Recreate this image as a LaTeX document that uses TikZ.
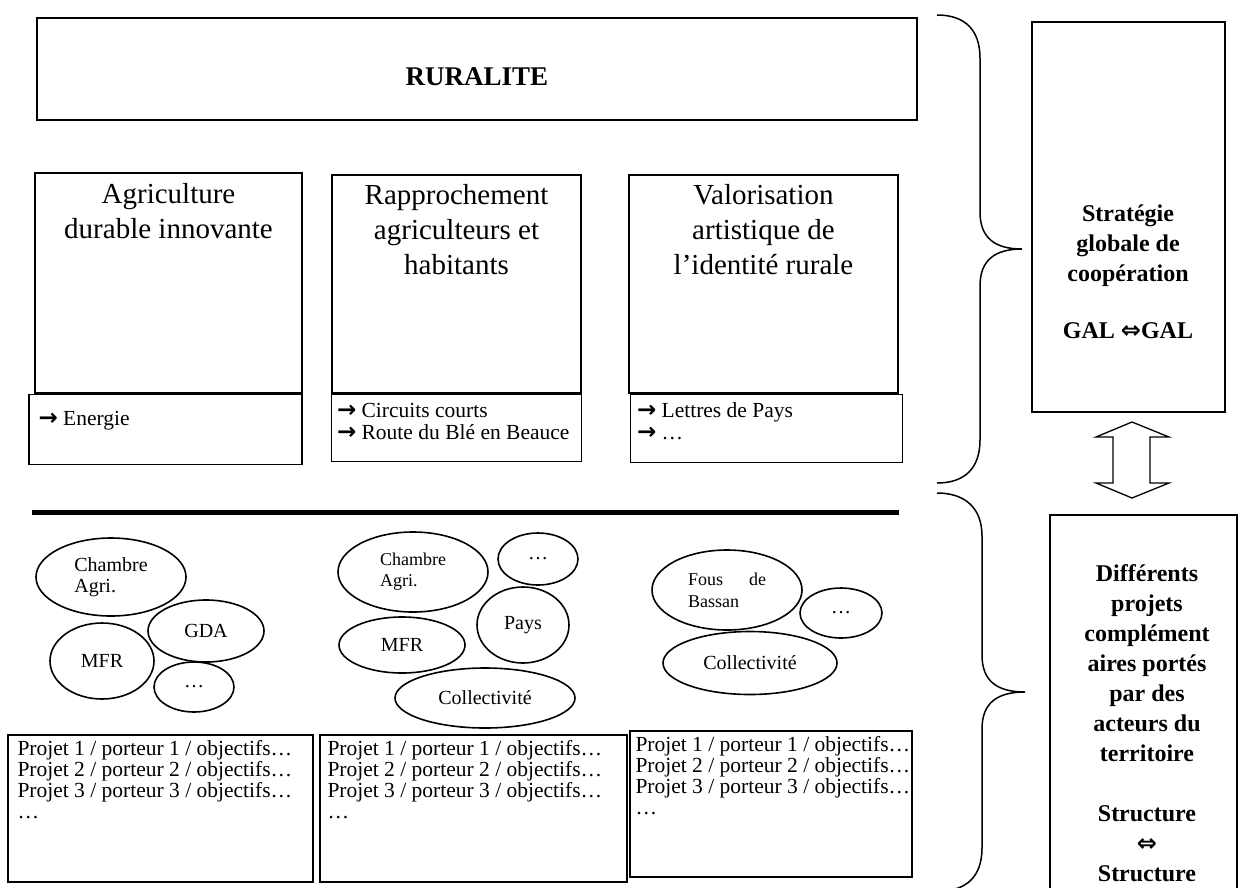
\documentclass[tikz,border=0pt]{standalone}
\usepackage{fontspec}
\setmainfont{Liberation Serif}
\newfontfamily\symfont{DejaVu Sans}
\usetikzlibrary{positioning,shapes.geometric}

\newcommand{\fleche}{{\symfont\bfseries\fontsize{23}{22}\selectfont →}\ }

\begin{document}
\begin{tikzpicture}[
	x=1pt, y=-1pt,
	node distance=0pt,
	box/.style={draw, rectangle, line width=1.4pt, inner sep=0pt},
	themetxt/.style={font=\fontsize{29}{35}\selectfont, align=center, inner sep=0pt},
	subtxt/.style={font=\fontsize{21.5}{22}\selectfont, align=left, inner sep=0pt},
	listtxt/.style={font=\fontsize{21.5}{21}\selectfont, align=left, inner sep=0pt},
	acteur/.style={draw, ellipse, line width=1.6pt, inner sep=0pt, font=\fontsize{20}{21}\selectfont, align=left},
	righttxt/.style={font=\bfseries\fontsize{24}{30}\selectfont, align=center, inner sep=0pt},
	accolade/.style={line width=1.5pt}
	]
	\useasboundingbox (0,0) rectangle (1239,887);
	\node[box, minimum width=880pt, minimum height=102pt] (rural) at (477,69) {};
	\node[font=\bfseries\fontsize{27}{30}\selectfont, inner sep=0pt] (ruraltxt) at ([yshift=-8pt]rural.center) {RURALITE};
	\node[box, minimum width=267pt, minimum height=220pt] (agri) at (168.5,283) {};
	\node[box, minimum width=249pt, minimum height=218pt] (rappr) at (456.5,284) {};
	\node[box, minimum width=269pt, minimum height=218pt] (valor) at (763.5,284) {};
	\node[themetxt, below=11pt of agri.north] (agritxt) {Agriculture\\durable innovante};
	\node[themetxt, below=10pt of rappr.north] (rapprtxt) {Rapprochement\\agriculteurs et\\habitants};
	\node[themetxt, below=10pt of valor.north] (valortxt) {Valorisation\\artistique de\\l’identité rurale};
	\node[box, below=of agri, xshift=-3pt, minimum width=273pt, minimum height=70pt] (energie) {};
	\node[box, below=of rappr, minimum width=250pt, minimum height=67pt] (circuits) {};
	\node[box, below=of valor, xshift=3pt, minimum width=272pt, minimum height=68pt] (lettres) {};
	\node[subtxt, below right=17pt and 10pt of energie.north west] (energietxt) {\fleche Energie};
	\node[subtxt, below right=9pt and 6pt of circuits.north west] (circuitstxt) {\fleche Circuits courts\\\fleche Route du Blé en Beauce};
	\node[subtxt, below right=9pt and 7pt of lettres.north west] (lettrestxt) {\fleche Lettres de Pays\\\fleche …};
	\draw[line width=5pt] (32,512) -- (899,512);
	\node[acteur, minimum width=150pt, minimum height=78pt] (chambreA) at (111,577) {Chambre\\Agri.};
	\node[acteur, minimum width=116pt, minimum height=62pt] (gdaA) at (206,631) {GDA};
	\node[acteur, minimum width=104pt, minimum height=76pt] (mfrA) at (102,661) {MFR};
	\node[acteur, minimum width=80pt, minimum height=50pt] (autreA) at (194,687) {…};
	\node[acteur, minimum width=150pt, minimum height=80pt, font=\fontsize{18}{21}\selectfont] (chambreB) at (413,572) {Chambre\\Agri.};
	\node[acteur, minimum width=80pt, minimum height=52pt] (autreB) at (538,559) {…};
	\node[acteur, minimum width=92pt, minimum height=76pt] (paysB) at (523,625) {Pays};
	\node[acteur, minimum width=126pt, minimum height=56pt] (mfrB) at (402,645) {MFR};
	\node[acteur, minimum width=180pt, minimum height=60pt] (collB) at (485,698) {Collectivité};
	\node[acteur, minimum width=150pt, minimum height=80pt, text width=78pt, font=\fontsize{18}{22}\selectfont] (fousC) at (727,590) {Fous\hfill de\\Bassan};
	\node[acteur, minimum width=82pt, minimum height=50pt] (autreC) at (841,613) {…};
	\node[acteur, minimum width=174pt, minimum height=63pt] (collC) at (750,663) {Collectivité};
	\node[box, minimum width=305pt, minimum height=147pt] (proj1) at (160.5,808.5) {};
	\node[box, minimum width=307pt, minimum height=147pt] (proj2) at (473.5,808.5) {};
	\node[box, minimum width=282pt, minimum height=146pt] (proj3) at (771,804) {};
	\node[listtxt, below right=6pt and 10pt of proj1.north west] (proj1txt) {Projet 1 / porteur 1 / objectifs…\\Projet 2 / porteur 2 / objectifs…\\Projet 3 / porteur 3 / objectifs…\\…};
	\node[listtxt, below right=6pt and 8pt of proj2.north west] (proj2txt) {Projet 1 / porteur 1 / objectifs…\\Projet 2 / porteur 2 / objectifs…\\Projet 3 / porteur 3 / objectifs…\\…};
	\node[listtxt, below right=6pt and 6pt of proj3.north west] (proj3txt) {Projet 1 / porteur 1 / objectifs…\\Projet 2 / porteur 2 / objectifs…\\Projet 3 / porteur 3 / objectifs…\\…};
	\draw[accolade] (937,15) .. controls (965,15) and (980,30) .. (980,58) -- (980,212) .. controls (980,238) and (995,249) .. (1022,249) .. controls (995,249) and (980,260) .. (980,286) -- (980,440) .. controls (980,468) and (965,483) .. (937,483);
	\draw[accolade] (937,493) .. controls (965,493) and (982,508) .. (982,536) -- (982,655) .. controls (982,681) and (997,692) .. (1025,692) .. controls (997,692) and (982,703) .. (982,729) -- (982,848) .. controls (982,876) and (967,891) .. (939,891);
	\node[box, minimum width=193pt, minimum height=390pt] (strat) at (1128.5,217) {};
	\node[righttxt] (strattxt) at (1128,272) {Stratégie\\globale de\\coopération\\[27pt]GAL {\symfont ⇔}GAL};
	\node[box, minimum width=187pt, minimum height=385pt] (diff) at (1143.5,707.5) {};
	\node[righttxt] (difftxt) at (1147,723) {Différents\\projets\\complément\\aires portés\\par des\\acteurs du\\territoire\\[30pt]Structure\\{\symfont ⇔}\\Structure};
	\draw[line width=1.3pt] (1132,422) -- (1169,437) -- (1150,437) -- (1150,483) -- (1169,483) -- (1132,498) -- (1096,483) -- (1113,483) -- (1113,437) -- (1096,437) -- cycle;
\end{tikzpicture}
\end{document}
